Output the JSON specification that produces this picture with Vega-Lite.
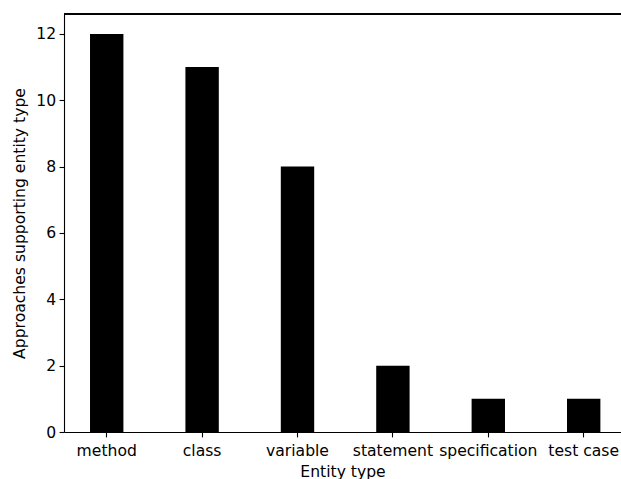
{
  "$schema": "https://vega.github.io/schema/vega-lite/v6.json",
  "autosize": "none",
  "padding": {"left": 64, "top": 14, "right": 0, "bottom": 47},
  "width": 557,
  "height": 418,
  "background": "white",
  "data": {"values": [
    {"entity": "method", "count": 12},
    {"entity": "class", "count": 11},
    {"entity": "variable", "count": 8},
    {"entity": "statement", "count": 2},
    {"entity": "specification", "count": 1},
    {"entity": "test case", "count": 1}
  ]},
  "config": {
    "view": {"stroke": null},
    "font": "DejaVu Sans",
    "axis": {
      "domainColor": "black", "domainWidth": 1.1,
      "tickColor": "black", "tickWidth": 1.1, "tickSize": 4.9,
      "labelColor": "black", "labelFont": "DejaVu Sans", "labelFontSize": 15.6, "labelPadding": 3.5,
      "titleColor": "black", "titleFont": "DejaVu Sans", "titleFontSize": 15.6, "titleFontWeight": "normal",
      "grid": false
    }
  },
  "layer": [
    {
      "mark": {"type": "bar", "color": "black"},
      "encoding": {
        "x": {
          "field": "entity", "type": "nominal", "sort": null,
          "scale": {"paddingInner": 0.65, "paddingOuter": 0.2444, "align": 0.558},
          "axis": {"title": "Entity type", "labelAngle": 0, "labelPadding": 6.5, "titlePadding": 5.5}
        },
        "y": {
          "field": "count", "type": "quantitative",
          "scale": {"domain": [0, 12.6], "nice": false},
          "axis": {"title": "Approaches supporting entity type", "values": [0, 2, 4, 6, 8, 10, 12], "titlePadding": 8}
        }
      }
    },
    {
      "mark": {"type": "rule", "color": "black", "strokeWidth": 1.1},
      "encoding": {
        "y": {"datum": 12.6, "type": "quantitative"}
      }
    }
  ]
}
